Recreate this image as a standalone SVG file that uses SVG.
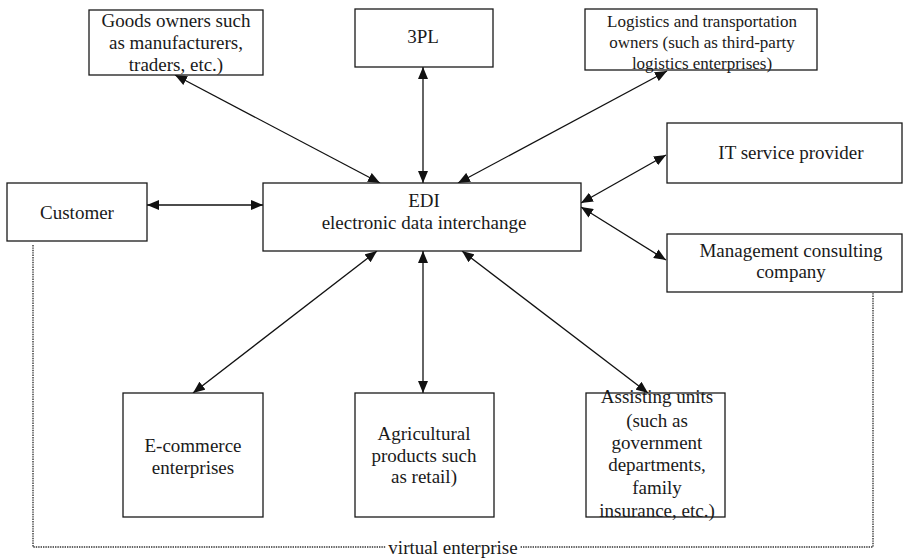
<svg xmlns="http://www.w3.org/2000/svg" width="915" height="560" viewBox="0 0 915 560">
<defs>
<style>
.box{fill:#fff;stroke:#1a1a1a;stroke-width:1.3}
.t{font-family:"Liberation Serif","Times New Roman",serif;font-size:19px;fill:#1a1a1a;text-anchor:middle}
.s{font-size:17px}
.c{stroke:#111;stroke-width:1.3;fill:none;marker-start:url(#ah);marker-end:url(#ah)}
.dot{stroke:#333;stroke-width:1.4;fill:none;stroke-dasharray:1.4 1}
</style>
<marker id="ah" viewBox="0 0 12 10" refX="12" refY="5" markerWidth="12" markerHeight="10" markerUnits="userSpaceOnUse" orient="auto-start-reverse">
<path d="M0,0 L12,5 L0,10 Z" fill="#111"/>
</marker>
</defs>
<rect width="915" height="560" fill="#fff"/>
<g id="virtual-enterprise">
<polyline class="dot" points="33,245 33,547 873,547 873,293"/>
<rect x="386" y="538" width="134" height="20" fill="#fff"/>
<text class="t" x="453" y="554">virtual enterprise</text>
</g>
<g id="connectors">
<line class="c" x1="175" y1="75" x2="380" y2="183"/>
<line class="c" x1="423" y1="67" x2="423" y2="183"/>
<line class="c" x1="667" y1="71" x2="458" y2="183"/>
<line class="c" x1="666" y1="155" x2="581" y2="203"/>
<line class="c" x1="666" y1="260" x2="581" y2="207"/>
<line class="c" x1="147" y1="205" x2="263" y2="205"/>
<line class="c" x1="193" y1="393" x2="377" y2="251"/>
<line class="c" x1="423" y1="393" x2="423" y2="251"/>
<line class="c" x1="648" y1="393" x2="462" y2="251"/>
</g>
<g id="goods-owners">
<rect class="box" x="89" y="10" width="174" height="65"/>
<text class="t" x="176" y="27">Goods owners such</text>
<text class="t" x="176" y="49">as manufacturers,</text>
<text class="t" x="176" y="71">traders, etc.)</text>
</g>
<g id="threepl">
<rect class="box" x="355" y="9" width="138" height="58"/>
<text class="t" x="423" y="43">3PL</text>
</g>
<g id="logistics">
<rect class="box" x="585" y="9" width="232" height="61"/>
<text class="t s" x="702" y="27">Logistics and transportation</text>
<text class="t s" x="702" y="48">owners (such as third-party</text>
<text class="t s" x="702" y="69">logistics enterprises)</text>
</g>
<g id="it-service">
<rect class="box" x="667" y="123" width="235" height="60"/>
<text class="t" x="791" y="159">IT service provider</text>
</g>
<g id="management">
<rect class="box" x="667" y="234" width="235" height="58"/>
<text class="t" x="791" y="257">Management consulting</text>
<text class="t" x="791" y="278">company</text>
</g>
<g id="customer">
<rect class="box" x="7" y="183" width="140" height="58"/>
<text class="t" x="77" y="219">Customer</text>
</g>
<g id="edi">
<rect class="box" x="263" y="183" width="318" height="68"/>
<text class="t" x="424" y="207">EDI</text>
<text class="t" x="424" y="229">electronic data interchange</text>
</g>
<g id="ecommerce">
<rect class="box" x="123" y="393" width="140" height="124"/>
<text class="t" x="193" y="452">E-commerce</text>
<text class="t" x="193" y="474">enterprises</text>
</g>
<g id="agricultural">
<rect class="box" x="355" y="393" width="139" height="124"/>
<text class="t" x="424" y="440">Agricultural</text>
<text class="t" x="424" y="462">products such</text>
<text class="t" x="424" y="483">as retail)</text>
</g>
<g id="assisting">
<rect class="box" x="586" y="393" width="139" height="124"/>
<text class="t" x="657" y="403">Assisting units</text>
<text class="t" x="657" y="427">(such as</text>
<text class="t" x="657" y="449">government</text>
<text class="t" x="657" y="471">departments,</text>
<text class="t" x="657" y="494">family</text>
<text class="t" x="657" y="517">insurance, etc.)</text>
</g>
</svg>
